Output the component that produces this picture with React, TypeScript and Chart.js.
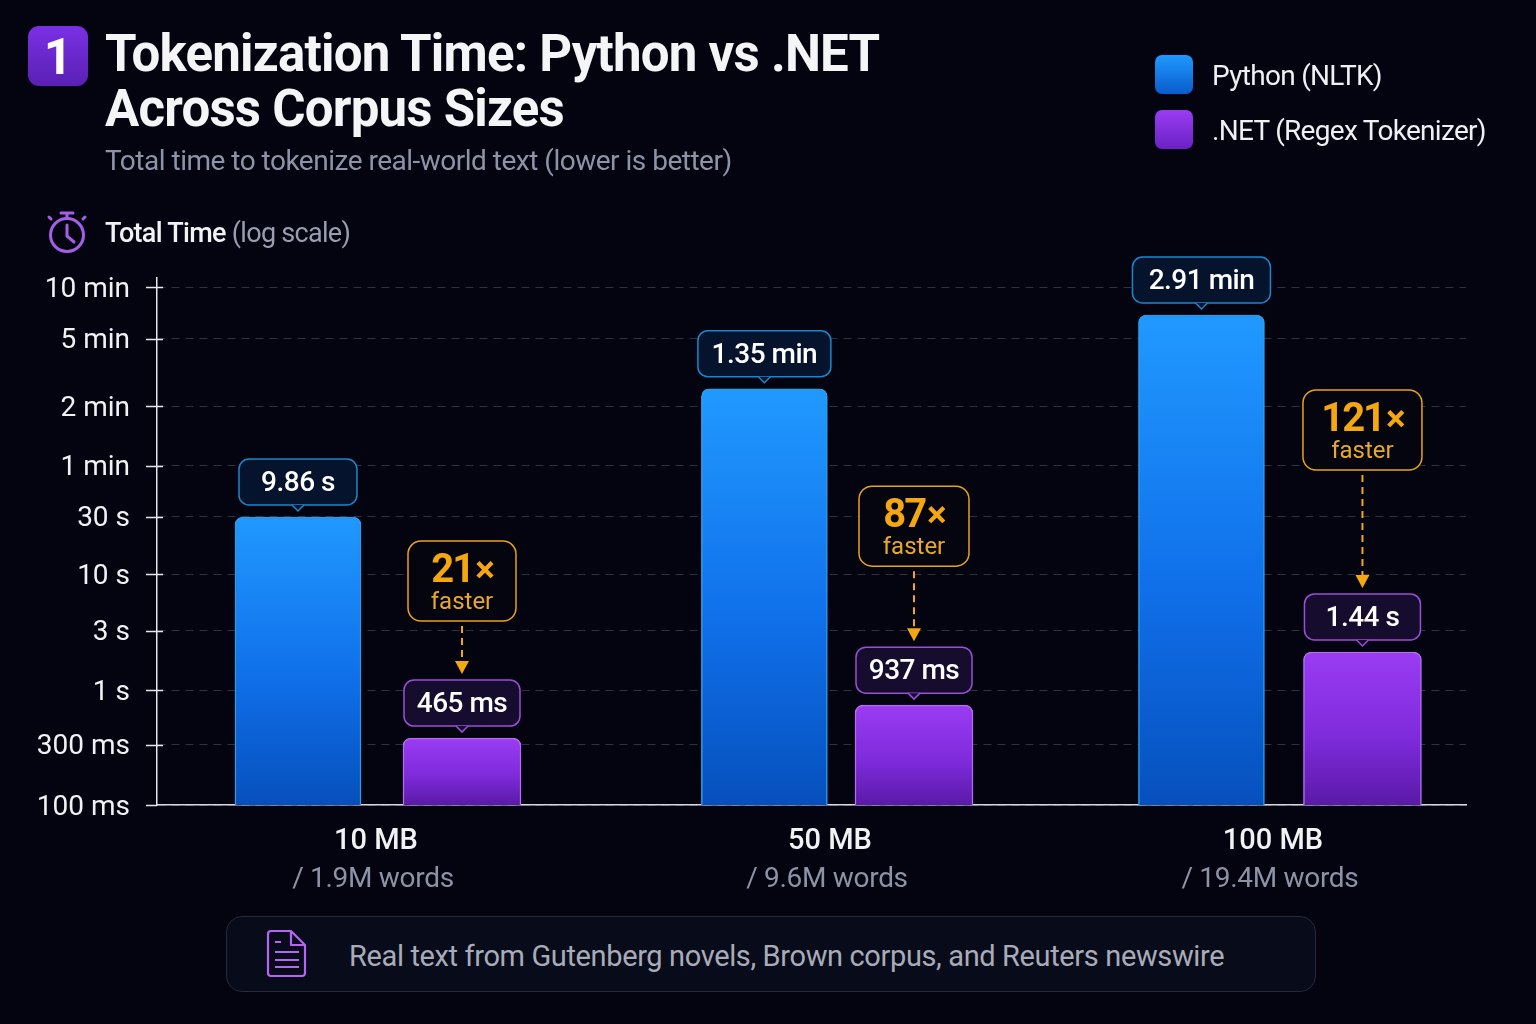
import { useEffect, useRef } from 'react';
import { CategoryScale, Chart, LogarithmicScale, registerables } from 'chart.js';

const categories = ['10 MB', '50 MB', '100 MB'];
const wordCounts = ['/ 1.9M words', '/ 9.6M words', '/ 19.4M words'];

// bar heights in seconds, as read against the drawn axis
const pythonSeconds = [30, 152, 413];
const dotnetSeconds = [0.349, 0.718, 2.03];

const pythonLabels = ['9.86 s', '1.35 min', '2.91 min'];
const dotnetLabels = ['465 ms', '937 ms', '1.44 s'];
const speedups = ['21', '87', '121'];

const tickValues = [0.1, 0.3, 1, 3, 10, 30, 60, 120, 300, 600];
const tickLabels = ['100 ms', '300 ms', '1 s', '3 s', '10 s', '30 s', '1 min', '2 min', '5 min', '10 min'];

// the axis in the picture is not a true log axis, each tick has its own spot (0 = bottom, 1 = top)
const axisMax = 700;
const axisValues = [...tickValues, axisMax];
const axisSpots = [0, 0.1139, 0.2182, 0.3302, 0.4383, 0.5465, 0.6433, 0.7571, 0.8843, 0.9829, 1];

const labelCenters = [0.1673, 0.5141, 0.8525];
const pythonCenters = [0.1077, 0.464, 0.7979];
const dotnetCenters = [0.233, 0.5783, 0.9209];

const pythonCalloutWidths = [118, 133, 138];
const dotnetCalloutWidths = [116, 116, 116];
const badgeWidths = [108, 110, 119];
const badgeLifts = [197, 219, 262];

const FONT = 'Roboto, "Noto Sans", sans-serif';
const AMBER = '#f5a70f';

class AnchoredLogScale extends LogarithmicScale {
    static id = 'anchoredLog';

    buildTicks() {
        return tickValues.map((value) => ({ value }));
    }

    getPixelForValue(value: number) {
        const v = !value ? axisValues[0] : value;
        let i = 0;
        while (i < axisValues.length - 2 && v > axisValues[i + 1]) i++;
        const t = Math.log(v / axisValues[i]) / Math.log(axisValues[i + 1] / axisValues[i]);
        return this.getPixelForDecimal(axisSpots[i] + t * (axisSpots[i + 1] - axisSpots[i]));
    }
}

class AnchoredCategoryScale extends CategoryScale {
    static id = 'anchoredCategory';

    getPixelForValue(value: number) {
        const centers = (this.options as any).centers;
        return this.left + centers[value] * this.width;
    }
}

Chart.register(...registerables, AnchoredLogScale, AnchoredCategoryScale);

const barGradient = (c: any, top: string, mid: string, bottom: string) => {
    const { chart } = c;
    if (!chart.chartArea) return top;
    const g = chart.ctx.createLinearGradient(0, chart.scales.y.getPixelForValue(c.raw), 0, chart.chartArea.bottom);
    g.addColorStop(0, top);
    g.addColorStop(0.55, mid);
    g.addColorStop(1, bottom);
    return g;
};

const drawCallout = (ctx: any, cx: number, barTop: number, width: number, text: string, fill: string, stroke: string) => {
    const bottom = barTop - 12;
    const top = bottom - 46;
    ctx.beginPath();
    ctx.roundRect(cx - width / 2, top, width, 46, 10);
    ctx.fillStyle = fill;
    ctx.fill();
    ctx.strokeStyle = stroke;
    ctx.lineWidth = 1.5;
    ctx.stroke();
    ctx.beginPath();
    ctx.moveTo(cx - 6, bottom);
    ctx.lineTo(cx, bottom + 6);
    ctx.lineTo(cx + 6, bottom);
    ctx.fillStyle = fill;
    ctx.fill();
    ctx.stroke();
    ctx.fillStyle = '#ffffff';
    ctx.font = `500 28px ${FONT}`;
    ctx.letterSpacing = '-0.5px';
    ctx.textAlign = 'center';
    ctx.textBaseline = 'middle';
    ctx.fillText(text, cx, top + 25);
    ctx.letterSpacing = '0px';
    return top;
};

const annotations = {
    id: 'annotations',
    afterDatasetsDraw(chart: any) {
        const { ctx, scales, chartArea } = chart;
        const python = chart.getDatasetMeta(0).data;
        const dotnet = chart.getDatasetMeta(1).data;
        ctx.save();

        // ticks cross the axis line
        ctx.strokeStyle = '#e8e8ec';
        ctx.lineWidth = 1.5;
        ctx.beginPath();
        tickValues.forEach((value) => {
            const y = Math.round(scales.y.getPixelForValue(value)) + 0.5;
            ctx.moveTo(chartArea.left - 11, y);
            ctx.lineTo(value === tickValues[0] ? chartArea.left : chartArea.left + 6, y);
        });
        ctx.stroke();

        categories.forEach((_, i) => {
            drawCallout(ctx, python[i].x, python[i].y, pythonCalloutWidths[i], pythonLabels[i], '#06132c', '#1c86cc');
            const calloutTop = drawCallout(ctx, dotnet[i].x, dotnet[i].y, dotnetCalloutWidths[i], dotnetLabels[i], '#150c2e', '#9a4fd6');

            const cx = dotnet[i].x;
            const boxTop = dotnet[i].y - badgeLifts[i];
            const boxHeight = 80;
            ctx.beginPath();
            ctx.roundRect(cx - badgeWidths[i] / 2, boxTop, badgeWidths[i], boxHeight, 13);
            ctx.fillStyle = '#05050f';
            ctx.fill();
            ctx.strokeStyle = '#e9a21b';
            ctx.lineWidth = 1.5;
            ctx.stroke();

            ctx.fillStyle = AMBER;
            ctx.textBaseline = 'middle';
            ctx.textAlign = 'left';
            ctx.font = `700 40px ${FONT}`;
            ctx.letterSpacing = '-2px';
            const numWidth = ctx.measureText(speedups[i]).width;
            ctx.font = `700 37px ${FONT}`;
            ctx.letterSpacing = '0px';
            const crossWidth = ctx.measureText('×').width;
            const start = cx - (numWidth + crossWidth) / 2;
            ctx.font = `700 40px ${FONT}`;
            ctx.letterSpacing = '-2px';
            ctx.fillText(speedups[i], start, boxTop + 31);
            ctx.letterSpacing = '0px';
            ctx.font = `700 37px ${FONT}`;
            ctx.fillText('×', start + numWidth + 2, boxTop + 32);
            ctx.textAlign = 'center';
            ctx.font = `400 24px ${FONT}`;
            ctx.fillStyle = '#e8a92a';
            ctx.fillText('faster', cx, boxTop + 62);

            // dashed arrow down to the .NET value
            const tip = calloutTop - 6;
            ctx.strokeStyle = AMBER;
            ctx.lineWidth = 2;
            ctx.setLineDash([7, 5]);
            ctx.beginPath();
            ctx.moveTo(cx, boxTop + boxHeight + 5);
            ctx.lineTo(cx, tip - 8);
            ctx.stroke();
            ctx.setLineDash([]);
            ctx.beginPath();
            ctx.moveTo(cx - 7, tip - 13);
            ctx.lineTo(cx + 7, tip - 13);
            ctx.lineTo(cx, tip);
            ctx.closePath();
            ctx.fillStyle = AMBER;
            ctx.fill();

            ctx.fillStyle = '#8e92a6';
            ctx.font = `400 28px ${FONT}`;
            ctx.letterSpacing = '-0.3px';
            ctx.textBaseline = 'middle';
            ctx.fillText(wordCounts[i], scales.x.getPixelForTick(i) - 3, 880);
            ctx.letterSpacing = '0px';
        });
        ctx.restore();
    },
};

const App = () => {
    const chartRef = useRef<HTMLCanvasElement | null>(null);

    useEffect(() => {
        const ctx = chartRef.current?.getContext('2d');
        if (!ctx) return;

        const myChart = new Chart(ctx, {
            type: 'bar',
            data: {
                labels: categories,
                datasets: [
                    {
                        label: 'Python (NLTK)',
                        data: pythonSeconds,
                        xAxisID: 'xPython',
                        grouped: false,
                        maxBarThickness: 126,
                        barPercentage: 1,
                        categoryPercentage: 1,
                        backgroundColor: (c: any) => barGradient(c, '#2099ff', '#1070ea', '#0650bd'),
                        borderColor: '#2a9fe8',
                        borderWidth: 1.5,
                        borderSkipped: 'bottom',
                        borderRadius: 8,
                    },
                    {
                        label: '.NET (Regex Tokenizer)',
                        data: dotnetSeconds,
                        xAxisID: 'xDotnet',
                        grouped: false,
                        maxBarThickness: 118,
                        barPercentage: 1,
                        categoryPercentage: 1,
                        backgroundColor: (c: any) => barGradient(c, '#9a3cf2', '#7f2bdc', '#5a1aa8'),
                        borderColor: '#b56cf0',
                        borderWidth: 1.5,
                        borderSkipped: 'bottom',
                        borderRadius: 8,
                    },
                ],
            } as any,
            options: {
                animation: false,
                responsive: false,
                devicePixelRatio: 1,
                layout: { padding: { top: 278, right: 70, left: 0, bottom: 0 } },
                plugins: { legend: { display: false }, tooltip: { enabled: false } },
                scales: {
                    x: {
                        type: 'anchoredCategory',
                        centers: labelCenters,
                        grid: { display: false },
                        border: { color: '#d8d8de', width: 1.5 },
                        ticks: {
                            color: '#f2f2f5',
                            font: { family: FONT, size: 29, weight: '500' },
                            padding: 11,
                            maxRotation: 0,
                        },
                        afterFit: (s: any) => {
                            s.height = 219;
                        },
                    },
                    xPython: { type: 'anchoredCategory', centers: pythonCenters, display: false, axis: 'x' },
                    xDotnet: { type: 'anchoredCategory', centers: dotnetCenters, display: false, axis: 'x' },
                    y: {
                        type: 'anchoredLog',
                        min: axisValues[0],
                        max: axisMax,
                        border: { color: '#e8e8ec', width: 1.5, dash: [8, 6] },
                        grid: {
                            color: 'rgba(150, 155, 175, 0.3)',
                            lineWidth: 1,
                            drawTicks: false,
                        },
                        ticks: {
                            color: '#f2f2f5',
                            font: { family: FONT, size: 28 },
                            padding: 27,
                            labelOffset: 2.5,
                            autoSkip: false,
                            callback: (_v: any, i: number) => tickLabels[i],
                        },
                        afterFit: (s: any) => {
                            s.width = 157;
                        },
                    },
                },
            } as any,
            plugins: [annotations],
        });

        return () => {
            myChart.destroy();
        };
    }, []);

    const text = (left: number, top: number, size: number, color: string, weight = 400, spacing = 0): React.CSSProperties => ({
        position: 'absolute',
        left,
        top,
        fontSize: size,
        color,
        fontWeight: weight,
        letterSpacing: spacing,
        lineHeight: 1,
        whiteSpace: 'nowrap',
    });

    return (
        <div style={{ position: 'absolute', left: 0, top: 0, width: 1536, height: 1024, overflow: 'hidden', background: '#03040f', fontFamily: FONT }}>
            <canvas ref={chartRef} width={1536} height={1024} style={{ position: 'absolute', left: 0, top: 0, display: 'block' }} />

            <div style={{ position: 'absolute', left: 28, top: 26, width: 60, height: 60, borderRadius: 11, background: 'linear-gradient(180deg, #7a30e4, #5a20b4)', color: '#fff', fontSize: 50, fontWeight: 700, lineHeight: '62px', textAlign: 'center' }}>1</div>
            <div style={text(105, 28, 51, '#f5f5f7', 700, -0.78)}>Tokenization Time: Python vs .NET</div>
            <div style={text(105, 83, 51, '#f5f5f7', 700, -0.78)}>Across Corpus Sizes</div>
            <div style={text(105, 147, 28, '#8f93a8', 400, -0.5)}>Total time to tokenize real-world text (lower is better)</div>

            <svg style={{ position: 'absolute', left: 46, top: 210 }} width={42} height={44} viewBox="0 0 42 44" fill="none" stroke="#a45ee8" strokeWidth={3} strokeLinecap="round">
                <circle cx="21" cy="25" r="16.5" />
                <path d="M15 3h12M21 3v5M5 9l-2 -2M37 9l2 -2M21 15v11l7 6" />
            </svg>
            <div style={text(105, 220, 27, '#f2f2f5', 500, -0.7)}>
                Total Time <span style={{ color: '#9a9db0', fontWeight: 400 }}>(log scale)</span>
            </div>

            <div style={{ position: 'absolute', left: 1155, top: 55, width: 38, height: 39, borderRadius: 7, background: 'linear-gradient(180deg, #2099ff, #0a5ccc)' }} />
            <div style={text(1212, 62, 28, '#f0f0f4', 400, -0.7)}>Python (NLTK)</div>
            <div style={{ position: 'absolute', left: 1155, top: 110, width: 38, height: 39, borderRadius: 7, background: 'linear-gradient(180deg, #9a3cf2, #6a22c4)' }} />
            <div style={text(1212, 117, 28, '#f0f0f4', 400, -0.7)}>.NET (Regex Tokenizer)</div>

            <div style={{ position: 'absolute', left: 226, top: 916, width: 1090, height: 76, boxSizing: 'border-box', borderRadius: 16, border: '1px solid #262a3c', background: '#080b1a' }} />
            <svg style={{ position: 'absolute', left: 266, top: 928 }} width={42} height={52} viewBox="0 0 42 52" fill="none" stroke="#b565f0" strokeWidth={2.2} strokeLinejoin="round">
                <path d="M5 3h20l14 14v28a3 3 0 0 1 -3 3H5a3 3 0 0 1 -3 -3V6a3 3 0 0 1 3 -3z" />
                <path d="M25 3v14h14" />
                <path d="M9 14h6M9 24h24M9 32h24M9 39h24" />
            </svg>
            <div style={text(349, 942, 29, '#a8abb8', 400, -0.37)}>Real text from Gutenberg novels, Brown corpus, and Reuters newswire</div>
        </div>
    );
};

export default App;
